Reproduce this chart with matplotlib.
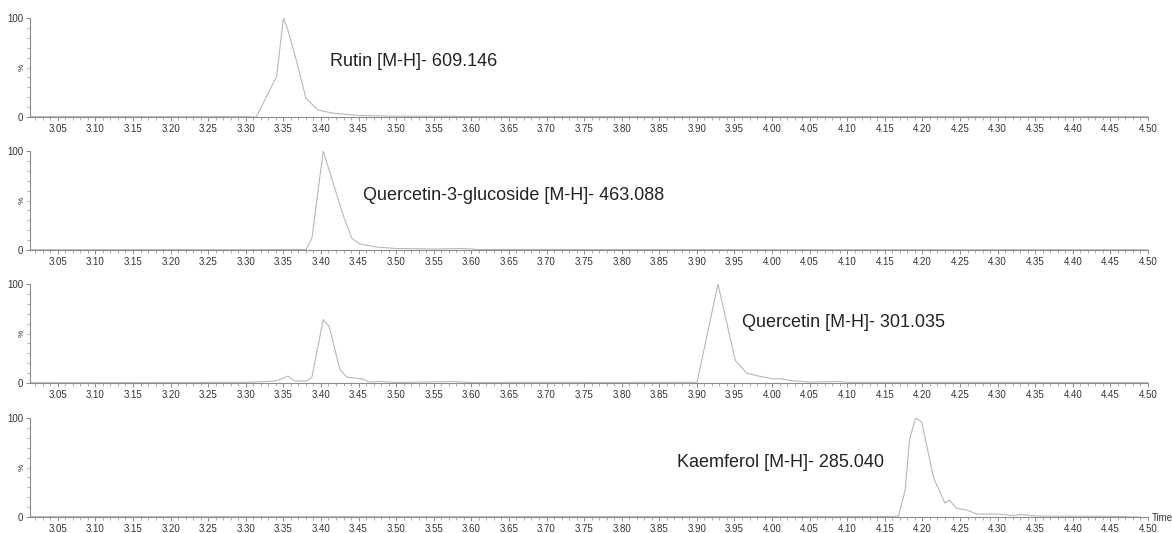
import numpy as np
import matplotlib
matplotlib.use("Agg")
import matplotlib.pyplot as plt
from matplotlib.ticker import MultipleLocator

plt.rcParams['font.family'] = ['Liberation Sans', 'DejaVu Sans']

# retention time (min) and relative intensity (%)
rutin_t = [3.013, 3.10, 3.20, 3.30, 3.314, 3.341, 3.350, 3.356, 3.368, 3.380, 3.396,
           3.415, 3.430, 3.450, 3.50, 3.60, 3.80, 4.00, 4.20, 4.40, 4.50]
rutin_i = [0.3, 0.4, 0.3, 0.3, 0.0, 41, 100, 88, 55, 19, 7,
           4, 3, 1.5, 0.8, 0.5, 0.4, 0.4, 0.3, 0.3, 0.3]

q3g_t = [3.013, 3.10, 3.20, 3.30, 3.35, 3.380, 3.388, 3.403, 3.414, 3.430, 3.441,
         3.452, 3.474, 3.50, 3.55, 3.59, 3.61, 3.70, 3.90, 4.10, 4.30, 4.50]
q3g_i = [0.3, 0.3, 0.4, 0.3, 0.5, 0.5, 12, 100, 73, 34, 12,
         6, 3, 1.5, 1.0, 1.5, 0.5, 0.5, 0.4, 0.3, 0.3, 0.3]

querc_t = [3.013, 3.10, 3.20, 3.30, 3.340, 3.356, 3.365, 3.381, 3.388, 3.403, 3.411,
           3.425, 3.434, 3.456, 3.463, 3.480, 3.50, 3.575, 3.60, 3.70, 3.80, 3.895,
           3.900, 3.928, 3.951, 3.966, 3.979, 4.002, 4.010, 4.024, 4.05, 4.09, 4.10,
           4.20, 4.30, 4.40, 4.50]
querc_i = [0.3, 0.4, 0.5, 0.6, 2, 7, 2, 2, 6, 64, 57,
           14, 6, 4, 1, 1.5, 0.5, 1.5, 0.5, 0.6, 0.5, 0.8,
           0.0, 100, 23, 10, 7.5, 4, 4.5, 2.5, 1, 1.5, 0.7,
           0.6, 0.6, 0.5, 0.5]

kaem_t = [3.013, 3.10, 3.20, 3.30, 3.40, 3.60, 3.80, 4.00, 4.10, 4.160, 4.168,
          4.177, 4.183, 4.191, 4.199, 4.215, 4.230, 4.236, 4.245, 4.259, 4.272,
          4.300, 4.320, 4.333, 4.350, 4.400, 4.450, 4.490]
kaem_i = [0.3, 0.4, 0.3, 0.3, 0.3, 0.3, 0.4, 0.3, 0.4, 0.5, 1,
          27, 79, 100, 96, 39, 14, 17, 9, 7, 3,
          3, 1.5, 2.5, 1, 0.7, 0.6, 0.0]

series = [(rutin_t, rutin_i), (q3g_t, q3g_i), (querc_t, querc_i), (kaem_t, kaem_i)]
labels = ["Rutin [M-H]- 609.146",
          "Quercetin-3-glucoside [M-H]- 463.088",
          "Quercetin [M-H]- 301.035",
          "Kaemferol [M-H]- 285.040"]
label_pos = [(3.412, 56), (3.456, 55), (3.960, 61), (3.874, 55)]

W, H = 1172, 533
fig = plt.figure(figsize=(W / 100, H / 100), dpi=100)

bottoms = [117, 250, 383, 517]
gray = "#8c8c8c"
for k, (t, inten) in enumerate(series):
    b = bottoms[k]
    ax = fig.add_axes([30 / W, 1 - b / H, (1148 - 30) / W, 99 / H])
    ax.plot(t, inten, color="#b8b8b8", lw=0.8)
    ax.set_xlim(3.013, 4.50)
    ax.set_ylim(0, 100)
    for s in ("top", "right"):
        ax.spines[s].set_visible(False)
    for s in ("left", "bottom"):
        ax.spines[s].set_color(gray)
        ax.spines[s].set_linewidth(0.8)
    ax.xaxis.set_major_locator(MultipleLocator(0.05))
    ax.xaxis.set_minor_locator(MultipleLocator(0.01))
    ax.set_yticks([0, 100])
    ax.yaxis.set_minor_locator(MultipleLocator(10))
    ax.xaxis.set_major_formatter(plt.FuncFormatter(lambda v, p: "%.2f" % v if v > 3.02 else ""))
    ax.tick_params(axis="both", which="major", length=3, width=0.7, color=gray,
                   labelsize=7, labelcolor="#333333", pad=2)
    ax.tick_params(axis="both", which="minor", length=2, width=0.5, color=gray)
    ax.text(-0.004, 0.5, "%", transform=ax.transAxes, rotation=90, fontsize=6,
            color="#333333", ha="right", va="center")
    ax.text(label_pos[k][0], label_pos[k][1], labels[k], fontsize=13,
            color="#222222", ha="left", va="center")
    ax.patch.set_alpha(0)

ax.text(1.003, -0.01, "Time", transform=ax.transAxes, fontsize=7, color="#333333",
        ha="left", va="center")

fig.savefig("out.png", dpi=100)
